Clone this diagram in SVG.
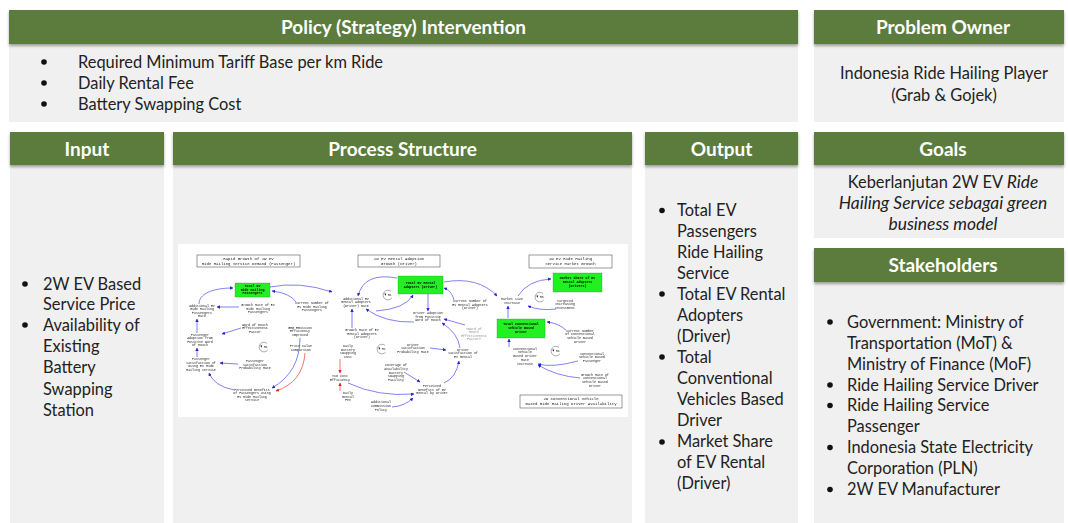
<svg xmlns="http://www.w3.org/2000/svg" width="1068" height="523" viewBox="0 0 1068 523">
  <defs>
    <style>
      .hdr { fill: #5b7b3d; filter: url(#shadow); }
      .pnl { fill: #f0f0f0; }
      .ht { font-family: Lato, "Open Sans", sans-serif; font-weight: 700; font-size: 19px; fill: #ffffff; text-anchor: middle; }
      .bt { font-family: Lato, "Open Sans", sans-serif; font-size: 16.4px; fill: #222222; }
      .ct { font-family: Lato, "Open Sans", sans-serif; font-size: 16.4px; fill: #222222; text-anchor: middle; }
      .it { font-style: italic; font-size: 17.4px; }
      .dot { fill: #111111; }
      .cld { filter: url(#soft); }
      .n { font-family: "Liberation Mono", monospace; font-size: 3.3px; fill: #1a1a1a; text-anchor: middle; }
      .nb { font-family: "Liberation Mono", monospace; font-size: 3.3px; fill: #000000; font-weight: 700; text-anchor: middle; }
      .ng { font-family: "Liberation Mono", monospace; font-size: 3.3px; fill: #909090; text-anchor: middle; }
      .tt { font-family: "Liberation Mono", monospace; font-size: 4px; fill: #1a1a1a; text-anchor: middle; }
      .tbox { fill: #ffffff; stroke: #555555; stroke-width: 0.6; }
      .gbox { fill: #22f022; stroke: #1aa01a; stroke-width: 0.3; }
      .cb { fill: none; stroke: #5a5ae6; stroke-width: 0.75; marker-end: url(#ab); }
      .cr { fill: none; stroke: #e84848; stroke-width: 0.75; marker-end: url(#ar); }
      .lp { fill: none; stroke: #444444; stroke-width: 0.45; }
      .lt { font-family: "Liberation Mono", monospace; font-size: 3px; fill: #1a1a1a; text-anchor: middle; }
    </style>
    <filter id="shadow" x="-5%" y="-20%" width="110%" height="150%">
      <feDropShadow dx="0" dy="2" stdDeviation="1.4" flood-color="#000000" flood-opacity="0.35"/>
    </filter>
    <filter id="soft" x="-2%" y="-2%" width="104%" height="104%">
      <feGaussianBlur stdDeviation="0.22"/>
    </filter>
    <marker id="ab" viewBox="0 0 10 10" refX="9" refY="5" markerWidth="3.4" markerHeight="3.4" markerUnits="userSpaceOnUse" orient="auto">
      <path d="M0,0 L10,5 L0,10 z" fill="#2626d0"/>
    </marker>
    <marker id="ar" viewBox="0 0 10 10" refX="9" refY="5" markerWidth="3.4" markerHeight="3.4" markerUnits="userSpaceOnUse" orient="auto">
      <path d="M0,0 L10,5 L0,10 z" fill="#e02020"/>
    </marker>
    <g id="loop">
      <path class="lp" d="M3,-3.6 A4.8,4.8 0 1 0 3.8,2.9"/>
      <path d="M-3.6,-1.6 l0.9,2.4 l0.9,-2.4 z" fill="#111111"/>
    </g>
  </defs>

  <rect width="1068" height="523" fill="#ffffff"/>

  <!-- Policy (Strategy) Intervention -->
  <g id="policy">
    <rect class="pnl" x="9" y="44" width="789" height="78"/>
    <rect class="hdr" x="9" y="10" width="789" height="34"/>
    <text class="ht" x="403.5" y="33.5">Policy (Strategy) Intervention</text>
    <circle class="dot" cx="44" cy="62" r="2.8"/>
    <circle class="dot" cx="44" cy="83" r="2.8"/>
    <circle class="dot" cx="44" cy="104" r="2.8"/>
    <text class="bt" x="78" y="67.5">Required Minimum Tariff Base per km Ride</text>
    <text class="bt" x="78" y="88.5">Daily Rental Fee</text>
    <text class="bt" x="78" y="109.5">Battery Swapping Cost</text>
  </g>

  <!-- Problem Owner -->
  <g id="problem-owner">
    <rect class="pnl" x="814" y="44" width="250" height="78"/>
    <rect class="hdr" x="814" y="10" width="250" height="34"/>
    <text class="ht" x="943" y="33.5">Problem Owner</text>
    <text class="ct" x="944" y="78.5">Indonesia Ride Hailing Player</text>
    <text class="ct" x="944" y="100.5">(Grab &amp; Gojek)</text>
  </g>

  <!-- Input -->
  <g id="input">
    <rect class="pnl" x="10" y="165" width="154" height="358"/>
    <rect class="hdr" x="10" y="132" width="154" height="33"/>
    <text class="ht" x="87" y="155.5">Input</text>
    <circle class="dot" cx="25" cy="284" r="2.8"/>
    <circle class="dot" cx="25" cy="325" r="2.8"/>
    <text class="bt" x="43" y="289.5">2W EV Based</text>
    <text class="bt" x="43" y="309.5">Service Price</text>
    <text class="bt" x="43" y="330.5">Availability of</text>
    <text class="bt" x="43" y="351.5">Existing</text>
    <text class="bt" x="43" y="372.5">Battery</text>
    <text class="bt" x="43" y="394.5">Swapping</text>
    <text class="bt" x="43" y="415.5">Station</text>
  </g>

  <!-- Process Structure -->
  <g id="process">
    <rect class="pnl" x="173" y="165" width="459" height="358"/>
    <rect class="hdr" x="173" y="132" width="459" height="33"/>
    <text class="ht" x="402.5" y="155.5">Process Structure</text>
    <rect x="178" y="244" width="450" height="173" fill="#ffffff"/>
  </g>

  <!-- Causal loop diagram: passenger demand loop -->
  <g id="cld-passenger" class="cld">
    <rect class="tbox" x="197" y="255" width="103" height="12"/>
    <text class="tt"><tspan x="248.5" y="260">Rapid Growth of 2W EV</tspan><tspan x="248.5" y="264.8">Ride Hailing Service Demand (Passenger)</tspan></text>
    <rect class="gbox" x="235" y="283" width="35" height="14"/>
    <text class="nb"><tspan x="252.5" y="287.2">Total EV</tspan><tspan x="252.5" y="290.8">Ride Hailing</tspan><tspan x="252.5" y="294.4">Passengers</tspan></text>
    <text class="n"><tspan x="202" y="306.5">Additional EV</tspan><tspan x="202" y="310">Ride Hailing</tspan><tspan x="202" y="313.5">Passengers</tspan><tspan x="202" y="317">Rate</tspan></text>
    <text class="n"><tspan x="258" y="306">Growth Rate of EV</tspan><tspan x="258" y="309.5">Ride Hailing</tspan><tspan x="258" y="313">Passengers</tspan></text>
    <text class="n"><tspan x="312" y="304">Current Number of</tspan><tspan x="312" y="307.5">EV Ride Hailing</tspan><tspan x="312" y="311">Passengers</tspan></text>
    <text class="n"><tspan x="255" y="325.5">Word of Mouth</tspan><tspan x="255" y="329">Effectiveness</tspan><tspan x="255" y="332.5">Factor</tspan></text>
    <text class="n"><tspan x="200" y="335.5">Passenger</tspan><tspan x="200" y="339">Adoption from</tspan><tspan x="200" y="342.5">Positive Word</tspan><tspan x="200" y="346">of Mouth</tspan></text>
    <text class="n"><tspan x="300" y="328.5">GHG Emission</tspan><tspan x="300" y="332">Efficiency</tspan><tspan x="300" y="335.5">Improved</tspan></text>
    <text class="n"><tspan x="301" y="347">Price Value</tspan><tspan x="301" y="350.5">Comparison</tspan></text>
    <use href="#loop" x="264" y="347"/>
    <text class="lt" x="265.8" y="348.2">R1</text>
    <text class="n"><tspan x="201" y="360">Passenger</tspan><tspan x="201" y="363.5">Satisfaction of</tspan><tspan x="201" y="367">Using EV Ride</tspan><tspan x="201" y="370.5">Hailing Service</tspan></text>
    <text class="n"><tspan x="255" y="362">Passenger</tspan><tspan x="255" y="365.5">Satisfaction</tspan><tspan x="255" y="369">Probability Rate</tspan></text>
    <text class="n"><tspan x="252" y="390.5">Perceived Benefits</tspan><tspan x="252" y="394">of Passengers Using</tspan><tspan x="252" y="397.5">EV Ride Hailing</tspan><tspan x="252" y="401">Service</tspan></text>
  </g>

  <!-- Causal loop diagram: rental adoption loops -->
  <g id="cld-rental" class="cld">
    <rect class="tbox" x="358" y="255" width="82" height="12"/>
    <text class="tt"><tspan x="399" y="260">2W EV Rental Adoption</tspan><tspan x="399" y="264.8">Growth (Driver)</tspan></text>
    <rect class="gbox" x="398" y="276" width="45" height="18"/>
    <text class="nb"><tspan x="420.5" y="283.5">Total EV Rental</tspan><tspan x="420.5" y="287.5">Adopters (Driver)</tspan></text>
    <use href="#loop" x="388" y="295"/>
    <text class="lt" x="389.8" y="296.2">R1</text>
    <text class="n"><tspan x="356" y="299.5">Additional EV</tspan><tspan x="356" y="303">Rental Adopters</tspan><tspan x="356" y="306.5">(Driver) Rate</tspan></text>
    <text class="n"><tspan x="470" y="302">Current Number of</tspan><tspan x="470" y="305.5">EV Rental Adopters</tspan><tspan x="470" y="309">(Driver)</tspan></text>
    <text class="n"><tspan x="428" y="314">Driver Adoption</tspan><tspan x="428" y="317.5">from Positive</tspan><tspan x="428" y="321">Word of Mouth</tspan></text>
    <text class="n"><tspan x="362" y="331">Growth Rate of EV</tspan><tspan x="362" y="334.5">Rental Adopters</tspan><tspan x="362" y="338">(Driver)</tspan></text>
    <text class="ng"><tspan x="474" y="329.5">&lt;Word of</tspan><tspan x="474" y="333">Mouth</tspan><tspan x="474" y="336.5">Effectiveness</tspan><tspan x="474" y="340">Factor&gt;</tspan></text>
    <use href="#loop" x="382" y="349"/>
    <text class="lt" x="383.8" y="350.2">R2</text>
    <text class="n"><tspan x="413" y="345.5">Driver</tspan><tspan x="413" y="349">Satisfaction</tspan><tspan x="413" y="352.5">Probability Rate</tspan></text>
    <text class="n"><tspan x="348" y="347">Daily</tspan><tspan x="348" y="350.5">Battery</tspan><tspan x="348" y="354">Swapping</tspan><tspan x="348" y="357.5">Cost</tspan></text>
    <text class="n"><tspan x="463" y="350.5">Driver</tspan><tspan x="463" y="354">Satisfaction of</tspan><tspan x="463" y="357.5">EV Rental</tspan></text>
    <text class="n"><tspan x="340" y="377">TCO Cost</tspan><tspan x="340" y="380.5">Efficiency</tspan></text>
    <text class="n"><tspan x="396" y="366">Coverage of</tspan><tspan x="396" y="369.8">Availability</tspan><tspan x="396" y="373.6">Battery</tspan><tspan x="396" y="377.4">Swapping</tspan><tspan x="396" y="381.2">Facility</tspan></text>
    <text class="n"><tspan x="432" y="387">Perceived</tspan><tspan x="432" y="390.5">Benefits of EV</tspan><tspan x="432" y="394">Rental by Driver</tspan></text>
    <text class="n"><tspan x="348" y="394">Daily</tspan><tspan x="348" y="397.5">Rental</tspan><tspan x="348" y="401">Fee</tspan></text>
    <text class="n"><tspan x="381" y="403">Additional</tspan><tspan x="381" y="406.8">Commission</tspan><tspan x="381" y="410.6">Policy</tspan></text>
  </g>

  <!-- Causal loop diagram: market growth and conventional drivers -->
  <g id="cld-market" class="cld">
    <rect class="tbox" x="529" y="255" width="83" height="13"/>
    <text class="tt"><tspan x="570.5" y="260.3">2W EV Ride Hailing</tspan><tspan x="570.5" y="265">Service Market Growth</tspan></text>
    <rect class="gbox" x="553" y="273" width="49" height="19"/>
    <text class="nb"><tspan x="577.5" y="279">Market Share of EV</tspan><tspan x="577.5" y="283">Rental Adopters</tspan><tspan x="577.5" y="287">(Drivers)</tspan></text>
    <text class="n"><tspan x="512" y="299.5">Market Size</tspan><tspan x="512" y="303.5">Increase</tspan></text>
    <use href="#loop" x="540" y="297"/>
    <text class="lt" x="541.8" y="298.2">R3</text>
    <text class="n"><tspan x="565" y="301.5">Targeted</tspan><tspan x="565" y="305.3">Increasing</tspan><tspan x="565" y="309.1">Investment</tspan></text>
    <rect class="gbox" x="497" y="319" width="48" height="19"/>
    <text class="nb"><tspan x="521" y="325">Total Conventional</tspan><tspan x="521" y="329">Vehicle Based</tspan><tspan x="521" y="333">Driver</tspan></text>
    <text class="n"><tspan x="580" y="331.5">Current Number</tspan><tspan x="580" y="335.3">of Conventional</tspan><tspan x="580" y="339.1">Vehicle Based</tspan><tspan x="580" y="342.9">Driver</tspan></text>
    <use href="#loop" x="556" y="351"/>
    <text class="lt" x="557.8" y="352.2">R4</text>
    <text class="n"><tspan x="525" y="349.5">Conventional</tspan><tspan x="525" y="353.3">Vehicle</tspan><tspan x="525" y="357.1">Based Driver</tspan><tspan x="525" y="360.9">Rate</tspan><tspan x="525" y="364.7">Increase</tspan></text>
    <text class="n"><tspan x="592" y="354.5">Conventional</tspan><tspan x="592" y="358.3">Vehicle Based</tspan><tspan x="592" y="362.1">Passenger</tspan></text>
    <text class="n"><tspan x="595" y="375.5">Growth Rate of</tspan><tspan x="595" y="379.3">Conventional</tspan><tspan x="595" y="383.1">Vehicle Based</tspan><tspan x="595" y="386.9">Driver</tspan></text>
    <rect class="tbox" x="520" y="395" width="102" height="13"/>
    <text class="tt"><tspan x="571" y="400.3">2W Conventional Vehicle</tspan><tspan x="571" y="405">Based Ride Hailing Driver Availability</tspan></text>
  </g>

  <!-- Causal links -->
  <g id="connectors" class="cld">
    <path class="cb" d="M199,304 C199,294 212,288 233,288"/>
    <path class="cb" d="M239,307 L217,307"/>
    <path class="cb" d="M296,302 Q290,293 272,291"/>
    <path class="cb" d="M270,287 Q300,281 332,292"/>
    <path class="cb" d="M241,328 L222,334"/>
    <path class="cb" d="M197,333 L197,319"/>
    <path class="cb" d="M197,357 L197,348"/>
    <path class="cb" d="M238,364 L220,363"/>
    <path class="cb" d="M234,390 Q214,386 209,373"/>
    <path class="cb" d="M300,338 Q300,372 272,388"/>
    <path class="cr" d="M305,353 Q303,382 276,391"/>

    <path class="cb" d="M397,278 Q364,272 358,296"/>
    <path class="cb" d="M376,311 Q405,309 413,295"/>
    <path class="cb" d="M428,294 L428,311"/>
    <path class="cb" d="M454,300 Q452,291 444,288"/>
    <path class="cb" d="M444,282 Q478,276 497,296"/>
    <path class="cb" d="M414,322 Q385,323 366,309"/>
    <path class="cb" d="M352,328 L352,309"/>
    <path class="cb" d="M465,325 L444,319"/>
    <path class="cb" d="M460,348 Q458,333 442,323"/>
    <path class="cb" d="M430,348 L446,350"/>
    <path class="cb" d="M444,383 Q456,378 459,361"/>
    <path class="cb" d="M404,372 L420,382"/>
    <path class="cb" d="M348,383 Q378,397 414,394"/>
    <path class="cb" d="M392,407 Q405,406 413,398"/>
    <path class="cr" d="M340,359 L340,373"/>
    <path class="cr" d="M340,391 L340,383"/>

    <path class="cb" d="M518,296 Q528,280 551,279"/>
    <path class="cb" d="M556,309 Q540,311 528,306"/>
    <path class="cb" d="M508,318 L508,306"/>
    <path class="cb" d="M566,330 Q558,323 547,322"/>
    <path class="cb" d="M509,347 L509,339"/>
    <path class="cb" d="M578,361 Q552,368 538,364"/>
    <path class="cb" d="M580,378 Q556,376 538,365"/>
  </g>

  <!-- Output -->
  <g id="output">
    <rect class="pnl" x="645" y="165" width="153" height="358"/>
    <rect class="hdr" x="645" y="132" width="153" height="33"/>
    <text class="ht" x="721.5" y="155.5">Output</text>
    <circle class="dot" cx="662" cy="210.5" r="2.8"/>
    <circle class="dot" cx="662" cy="294" r="2.8"/>
    <circle class="dot" cx="662" cy="357" r="2.8"/>
    <circle class="dot" cx="662" cy="442" r="2.8"/>
    <text class="bt" x="677" y="216">Total EV</text>
    <text class="bt" x="677" y="237">Passengers</text>
    <text class="bt" x="677" y="258">Ride Hailing</text>
    <text class="bt" x="677" y="279">Service</text>
    <text class="bt" x="677" y="300">Total EV Rental</text>
    <text class="bt" x="677" y="321">Adopters</text>
    <text class="bt" x="677" y="342">(Driver)</text>
    <text class="bt" x="677" y="363">Total</text>
    <text class="bt" x="677" y="384">Conventional</text>
    <text class="bt" x="677" y="405">Vehicles Based</text>
    <text class="bt" x="677" y="426">Driver</text>
    <text class="bt" x="677" y="447">Market Share</text>
    <text class="bt" x="677" y="468">of EV Rental</text>
    <text class="bt" x="677" y="489">(Driver)</text>
  </g>

  <!-- Goals -->
  <g id="goals">
    <rect class="pnl" x="814" y="165" width="250" height="73"/>
    <rect class="hdr" x="814" y="132" width="250" height="33"/>
    <text class="ht" x="943" y="155.5">Goals</text>
    <text class="ct" x="943" y="187.5">Keberlanjutan 2W EV <tspan class="it">Ride</tspan></text>
    <text class="ct it" x="943" y="208.5">Hailing Service sebagai green</text>
    <text class="ct it" x="943" y="229.5">business model</text>
  </g>

  <!-- Stakeholders -->
  <g id="stakeholders">
    <rect class="pnl" x="814" y="282" width="250" height="241"/>
    <rect class="hdr" x="814" y="248" width="250" height="34"/>
    <text class="ht" x="943" y="271.5">Stakeholders</text>
    <circle class="dot" cx="830" cy="322" r="2.8"/>
    <circle class="dot" cx="830" cy="385" r="2.8"/>
    <circle class="dot" cx="830" cy="405.5" r="2.8"/>
    <circle class="dot" cx="830" cy="447.5" r="2.8"/>
    <circle class="dot" cx="830" cy="489.5" r="2.8"/>
    <text class="bt" x="847" y="327.5">Government: Ministry of</text>
    <text class="bt" x="847" y="348.5">Transportation (MoT) &amp;</text>
    <text class="bt" x="847" y="369.5">Ministry of Finance (MoF)</text>
    <text class="bt" x="847" y="390.5">Ride Hailing Service Driver</text>
    <text class="bt" x="847" y="411">Ride Hailing Service</text>
    <text class="bt" x="847" y="432">Passenger</text>
    <text class="bt" x="847" y="453">Indonesia State Electricity</text>
    <text class="bt" x="847" y="474">Corporation (PLN)</text>
    <text class="bt" x="847" y="495">2W EV Manufacturer</text>
  </g>
</svg>
